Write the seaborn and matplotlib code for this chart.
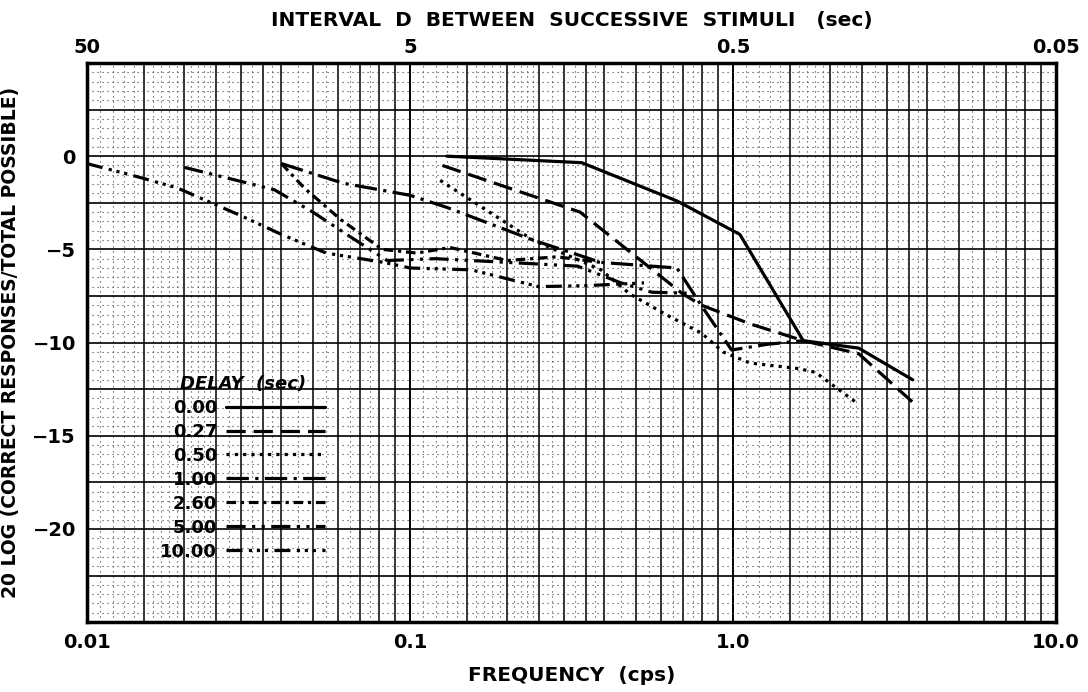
import numpy as np
import pandas as pd
import matplotlib
matplotlib.use("Agg")
import matplotlib.pyplot as plt
import seaborn as sns

# values: frequency (cps) and 20 log(correct/total)
delays = ["0.00", "0.27", "0.50", "1.00", "2.60", "5.00", "10.00"]

f_000 = [0.13, 0.34, 0.67, 1.05, 1.65, 2.45, 3.6]
y_000 = [0.0, -0.35, -2.4, -4.2, -9.9, -10.3, -12.0]

f_027 = [0.126, 0.336, 0.70, 0.80, 1.13, 1.65, 2.45, 3.6]
y_027 = [-0.5, -3.0, -7.4, -8.0, -9.0, -9.9, -10.6, -13.2]

f_050 = [0.124, 0.24, 0.39, 0.48, 0.62, 0.80, 0.93, 1.13, 1.6, 1.8, 2.4]
y_050 = [-1.3, -4.5, -6.1, -7.4, -8.5, -9.5, -10.5, -11.1, -11.4, -11.6, -13.2]

f_100 = [0.04, 0.062, 0.10, 0.13, 0.24, 0.39, 0.67, 0.70, 0.79, 0.99, 1.27, 1.65]
y_100 = [-0.4, -1.45, -2.1, -2.75, -4.5, -5.7, -6.0, -6.5, -7.9, -10.4, -10.1, -9.9]

f_260 = [0.04, 0.047, 0.061, 0.082, 0.105, 0.133, 0.20, 0.285, 0.39]
y_260 = [-0.4, -1.7, -3.4, -5.0, -5.2, -4.9, -5.6, -5.4, -5.7]

f_500 = [0.02, 0.038, 0.05, 0.065, 0.085, 0.12, 0.20, 0.33, 0.45, 0.56, 0.72]
y_500 = [-0.6, -1.8, -3.0, -4.3, -5.6, -5.5, -5.7, -5.9, -6.8, -7.3, -7.35]

f_1000 = [0.01, 0.0143, 0.019, 0.030, 0.040, 0.055, 0.083, 0.10, 0.155, 0.25, 0.35, 0.53]
y_1000 = [-0.4, -1.1, -1.7, -3.2, -4.2, -5.2, -5.7, -6.0, -6.1, -7.0, -6.95, -6.8]

x_ticks = [0.01, 0.1, 1.0, 10.0]
x_labels = ["0.01", "0.1", "1.0", "10.0"]
top_labels = ["50", "5", "0.5", "0.05"]
y_ticks = [0, -5, -10, -15, -20]
y_labels = ["0", "\u22125", "\u221210", "\u221215", "\u221220"]

series = {"0.00": (f_000, y_000), "0.27": (f_027, y_027), "0.50": (f_050, y_050),
          "1.00": (f_100, y_100), "2.60": (f_260, y_260), "5.00": (f_500, y_500),
          "10.00": (f_1000, y_1000)}
rows = []
for d, (fs, ys) in series.items():
    for f, y in zip(fs, ys):
        rows.append({"delay": d, "freq": f, "db": y})
df = pd.DataFrame(rows)

dash_map = {"0.00": "", "0.27": (6, 2.5), "0.50": (1, 1.6),
            "1.00": (7, 2, 1, 2), "2.60": (3, 1.5, 1, 1.5),
            "5.00": (6, 2, 1, 2, 1, 2), "10.00": (5, 2, 1, 1.5, 1, 1.5, 1, 2)}

sns.set_style("white")
plt.rcParams["font.family"] = ["DejaVu Sans"]
plt.rcParams["font.weight"] = "bold"
plt.rcParams["text.color"] = "black"
plt.rcParams["axes.labelcolor"] = "black"
plt.rcParams["xtick.color"] = "black"
plt.rcParams["ytick.color"] = "black"

fig = plt.figure(figsize=(10.88, 6.92), dpi=100)
ax = fig.add_axes([0.080, 0.101, 0.8906, 0.808])
ax.set_xscale("log")

# graph paper
heavy = [1.5, 2, 2.5, 3, 3.5, 4, 5, 6, 7, 8, 9]
fine = [1.1, 1.2, 1.3, 1.4, 1.6, 1.7, 1.8, 1.9, 2.1, 2.2, 2.3, 2.4, 2.75, 3.25,
        3.75, 4.5, 5.5, 6.5, 7.5]
dots = (0, (1, 3.5))
for dec in [0.01, 0.1, 1.0]:
    ax.vlines([dec * k for k in fine], -25, 5, colors="0.25", linewidth=0.8,
              linestyles=dots, zorder=1)
    ax.vlines([dec * k for k in heavy], -25, 5, colors="black", linewidth=1.1, zorder=1)
    ax.vlines([dec], -25, 5, colors="black", linewidth=1.4, zorder=1)
ax.hlines([v for v in np.arange(-24.5, 5, 0.5) if v % 2.5 != 0], 0.01, 10,
          colors="0.25", linewidth=0.8, linestyles=dots, zorder=1)
ax.hlines(np.arange(-22.5, 5, 2.5), 0.01, 10, colors="black", linewidth=1.2, zorder=1)

sns.lineplot(data=df, x="freq", y="db", style="delay", style_order=delays,
             dashes=dash_map, color="black", linewidth=2.3, sort=False,
             estimator=None, units="delay", legend=False, ax=ax, zorder=3)
ax.set_xlim(0.01, 10)
ax.set_ylim(-25, 5)

for sp in ax.spines.values():
    sp.set_linewidth(2.5)
    sp.set_color("black")

ax.set_xticks(x_ticks)
ax.set_xticklabels(x_labels)
ax.xaxis.set_minor_locator(matplotlib.ticker.NullLocator())
ax.set_yticks(y_ticks)
ax.set_yticklabels(y_labels)
ax.tick_params(axis="both", length=0, labelsize=14, pad=8)
ax.set_xlabel("FREQUENCY  (cps)", fontsize=14.5, fontweight="bold", labelpad=10)
ax.set_ylabel("20 LOG (CORRECT RESPONSES/TOTAL POSSIBLE)", fontsize=13.5,
              fontweight="bold", labelpad=9)

top = ax.twiny()
top.set_xscale("log")
top.set_xlim(ax.get_xlim())
top.set_xticks(x_ticks)
top.set_xticklabels(top_labels)
top.xaxis.set_minor_locator(matplotlib.ticker.NullLocator())
top.tick_params(axis="x", length=0, labelsize=14, pad=4)
top.set_xlabel("INTERVAL  D  BETWEEN  SUCCESSIVE  STIMULI   (sec)", fontsize=14.5,
               fontweight="bold", labelpad=9)
for sp in top.spines.values():
    sp.set_visible(False)

handles = ax.get_lines()[-7:]
leg = ax.legend(handles, delays, title="DELAY  (sec)", loc="upper left",
                bbox_to_anchor=(0.068, 0.455), frameon=False, markerfirst=False,
                handlelength=5.5, handletextpad=0.5, labelspacing=0.33, fontsize=13,
                title_fontsize=13, borderaxespad=0)
leg.get_title().set_fontstyle("italic")

fig.savefig("out.png", dpi=100)
